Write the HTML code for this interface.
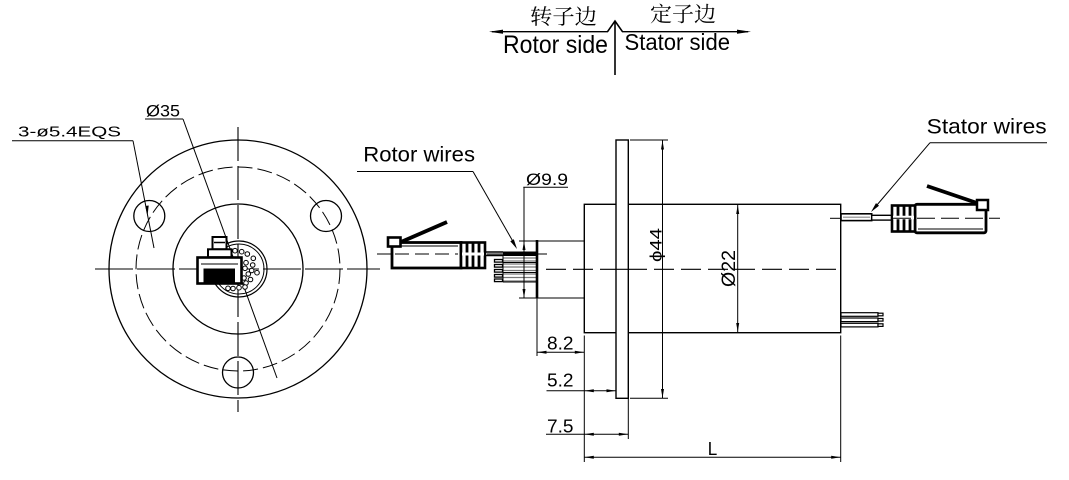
<!DOCTYPE html>
<html><head><meta charset="utf-8"><style>
html,body{margin:0;padding:0;background:#fff;}
svg{display:block;}
text{font-family:"Liberation Sans",Arial,sans-serif;fill:#000;stroke:none;}
.cjk{font-family:"Liberation Serif","Noto Serif CJK SC",serif;}
</style></head><body>
<svg width="1069" height="480" viewBox="0 0 1069 480" xmlns="http://www.w3.org/2000/svg">
<rect width="1069" height="480" fill="#fff"/>

<!-- Header -->
<g stroke="#000" fill="none" stroke-width="1.3">
  <line x1="492" y1="31.7" x2="608" y2="31.7"/>
  <line x1="622" y1="31.7" x2="748" y2="31.7"/>
  <line x1="615" y1="21" x2="615" y2="75" stroke-width="1.6"/>
  <polyline points="607.5,31.7 615,21 622.5,31.7" stroke-width="1.6"/>
</g>
<polygon points="489,31.7 503,29.6 503,33.8" fill="#000"/>
<polygon points="751,31.7 737,29.6 737,33.8" fill="#000"/>
<text class="cjk" x="530" y="24" font-size="21" textLength="67" lengthAdjust="spacingAndGlyphs">转子边</text>
<text class="cjk" x="650" y="21.5" font-size="21" textLength="66" lengthAdjust="spacingAndGlyphs">定子边</text>
<text x="503" y="53" font-size="25" textLength="105" lengthAdjust="spacingAndGlyphs">Rotor side</text>
<text x="624.5" y="50" font-size="23" textLength="105.5" lengthAdjust="spacingAndGlyphs">Stator side</text>

<!-- Left front view -->
<g stroke="#000" fill="none" stroke-width="1.3">
  <circle cx="238" cy="269" r="129"/>
  <circle cx="238" cy="269" r="102" stroke-dasharray="15 5" stroke-width="1"/>
  <circle cx="238" cy="269" r="65"/>
  <circle cx="149.3" cy="216" r="15.5"/>
  <circle cx="326" cy="216" r="15.5"/>
  <circle cx="238" cy="372.5" r="15.5"/>
  <line x1="238" y1="127" x2="238" y2="412" stroke-dasharray="34 5" stroke-width="1.1"/>
  <line x1="95" y1="269" x2="380" y2="269" stroke-dasharray="38 4" stroke-width="1.1"/>
  <!-- leaders -->
  <line x1="12" y1="140.7" x2="133" y2="140.7" stroke-width="1"/>
  <line x1="133" y1="140.7" x2="154" y2="248" stroke-width="1"/>
  <line x1="145" y1="119" x2="183" y2="119" stroke-width="1"/>
  <line x1="183" y1="119" x2="277" y2="378" stroke-width="1"/>
  <!-- connector round -->
  <circle cx="239" cy="269" r="28" stroke-width="1.2"/>
  <circle cx="239" cy="269" r="25" stroke-width="1"/>
</g>
<polygon points="147.5,216 145.3,206 148.7,205.5" fill="#000"/>
<g stroke="#000" fill="#fff" stroke-width="1">
  <circle cx="235" cy="250.7" r="2.3"/><circle cx="241.7" cy="251.7" r="2.3"/>
  <circle cx="247.3" cy="254" r="2.3"/><circle cx="253.3" cy="258.3" r="2.3"/>
  <circle cx="246" cy="262.7" r="2.3"/><circle cx="252.7" cy="265" r="2.3"/>
  <circle cx="245" cy="268.3" r="2.3"/><circle cx="251.7" cy="270.5" r="2.3"/>
  <circle cx="257" cy="272.7" r="2.3"/><circle cx="248.3" cy="274" r="2.3"/>
  <circle cx="244" cy="278" r="2.3"/><circle cx="250.5" cy="279.5" r="2.3"/>
  <circle cx="246" cy="283" r="2.3"/><circle cx="239" cy="287.7" r="2.3"/>
  <circle cx="245" cy="287" r="2.3"/><circle cx="228" cy="288.3" r="2.3"/>
  <circle cx="233" cy="288.5" r="2.3"/>
</g>
<!-- connector front -->
<g stroke="#000" fill="#fff">
  <rect x="212.5" y="237" width="14" height="12.3" stroke-width="2"/>
  <line x1="214" y1="242.5" x2="225" y2="242.5" stroke-width="1.5"/>
  <rect x="208" y="249.3" width="23.5" height="8" stroke-width="2"/>
  <rect x="197.5" y="257.5" width="44" height="26" stroke-width="2.6"/>
  <line x1="201" y1="264" x2="238" y2="264" stroke-width="1"/>
</g>
<rect x="203.5" y="268.5" width="31.5" height="15" fill="#000"/>
<text x="18" y="136.7" font-size="15" textLength="103" lengthAdjust="spacingAndGlyphs">3-ø5.4EQS</text>
<text x="146" y="116.7" font-size="17" textLength="34" lengthAdjust="spacingAndGlyphs">Ø35</text>

<!-- Rotor wires label -->
<text x="363.3" y="161.7" font-size="21" textLength="111.7" lengthAdjust="spacingAndGlyphs">Rotor wires</text>
<g stroke="#000" fill="none" stroke-width="1">
  <line x1="357" y1="171.5" x2="473" y2="171.5"/>
  <line x1="473" y1="171.5" x2="515" y2="245"/>
</g>
<polygon points="517,249 513.8,239.3 510.3,241.3" fill="#000"/>

<!-- Rotor connector side view -->
<g stroke="#000" fill="none">
  <line x1="377" y1="254" x2="547" y2="254" stroke-width="1" stroke-dasharray="16 6"/>
  <line x1="401" y1="242" x2="447" y2="222" stroke-width="3.8"/>
  <rect x="392" y="242.5" width="69" height="25.5" stroke-width="2.8" fill="#fff"/>
  <line x1="395" y1="246" x2="458" y2="246" stroke-width="1"/>
  <line x1="395" y1="254" x2="458" y2="254" stroke-width="1" stroke-dasharray="14 6"/>
  <rect x="388" y="237.5" width="12.5" height="9" stroke-width="2.6" fill="#fff"/>
  <rect x="461" y="242.5" width="24" height="25.5" stroke-width="2.6" fill="#fff"/>
  <line x1="467" y1="243" x2="467" y2="268" stroke-width="2.8"/>
  <line x1="473" y1="243" x2="473" y2="268" stroke-width="2.8"/>
  <line x1="479" y1="243" x2="479" y2="268" stroke-width="2.8"/>
  <line x1="462" y1="254" x2="484" y2="254" stroke="#fff" stroke-width="3"/>
  <line x1="485" y1="252" x2="503" y2="252" stroke-width="1.6"/>
  <line x1="485" y1="255.5" x2="503" y2="255.5" stroke-width="1.6"/>
</g>
<rect x="503" y="251.5" width="33" height="4.5" fill="#000"/>
<g stroke="#777" stroke-width="1.2">
  <line x1="503" y1="258" x2="536" y2="258"/>
  <line x1="503" y1="261" x2="536" y2="261"/>
  <line x1="503" y1="264" x2="536" y2="264"/>
  <line x1="503" y1="267" x2="536" y2="267"/>
  <line x1="503" y1="270.5" x2="536" y2="270.5"/>
  <line x1="503" y1="274" x2="536" y2="274"/>
  <line x1="503" y1="277.5" x2="536" y2="277.5"/>
  <line x1="503" y1="281" x2="536" y2="281"/>
</g>
<g stroke="#000" stroke-width="1">
  <line x1="503" y1="262.5" x2="536" y2="262.5"/>
  <line x1="503" y1="272.5" x2="536" y2="272.5"/>
  <line x1="503" y1="282" x2="536" y2="282"/>
  <line x1="503" y1="256" x2="503" y2="282"/>
</g>
<g stroke="#000" fill="#fff" stroke-width="1.3">
  <rect x="494.5" y="259.5" width="8" height="2.6"/>
  <rect x="494.5" y="264.5" width="8" height="2.6"/>
  <rect x="494.5" y="269.5" width="8" height="2.6"/>
  <rect x="494.5" y="274.5" width="8" height="2.6"/>
  <rect x="494.5" y="279" width="8" height="2.6"/>
</g>

<!-- Ø9.9 -->
<text x="526" y="185" font-size="17" textLength="42" lengthAdjust="spacingAndGlyphs">Ø9.9</text>
<g stroke="#000" fill="none" stroke-width="1">
  <line x1="523.3" y1="187.3" x2="568" y2="187.3"/>
  <line x1="524" y1="187.3" x2="524" y2="298"/>
  <line x1="519" y1="241" x2="584" y2="241"/>
  <line x1="519" y1="298" x2="584" y2="298"/>
</g>
<polygon points="524,241 522.5,250 525.5,250" fill="#000"/>
<polygon points="524,298 522.5,289 525.5,289" fill="#000"/>

<!-- Main side view body -->
<g stroke="#000" fill="none" stroke-width="1.4">
  <line x1="537" y1="240" x2="537" y2="298" stroke-width="2.6"/>
  <rect x="584.3" y="204.3" width="256.4" height="128.4"/>
  <line x1="546" y1="269.3" x2="840" y2="269.3" stroke-width="1.1" stroke-dasharray="20 7"/>
  <rect x="616" y="140" width="12.3" height="258.3" fill="#fff"/>
  <line x1="616" y1="269.3" x2="628.3" y2="269.3" stroke-width="1.1"/>
</g>
<!-- dims Ø44 / Ø22 -->
<g stroke="#000" fill="none" stroke-width="1">
  <line x1="630" y1="140" x2="668" y2="140"/>
  <line x1="630" y1="398.3" x2="668" y2="398.3"/>
  <line x1="662.5" y1="140" x2="662.5" y2="398.3"/>
  <line x1="737.7" y1="204.3" x2="737.7" y2="332.7"/>
</g>
<polygon points="662.5,140.5 661,149.5 664,149.5" fill="#000"/>
<polygon points="662.5,398 661,389 664,389" fill="#000"/>
<polygon points="737.7,205 736.2,214 739.2,214" fill="#000"/>
<polygon points="737.7,332 736.2,323 739.2,323" fill="#000"/>
<text transform="translate(661.3,245) rotate(-90)" font-size="17" text-anchor="middle" textLength="34" lengthAdjust="spacingAndGlyphs">ϕ44</text>
<text transform="translate(735,268.5) rotate(-90)" font-size="19" text-anchor="middle" textLength="37" lengthAdjust="spacingAndGlyphs">Ø22</text>

<!-- Stator connector -->
<text x="926.7" y="133.3" font-size="21" textLength="120" lengthAdjust="spacingAndGlyphs">Stator wires</text>
<g stroke="#000" fill="none" stroke-width="1">
  <line x1="930" y1="142.7" x2="1047" y2="142.7"/>
  <line x1="930" y1="142.7" x2="874" y2="208.5"/>
</g>
<polygon points="871,212 876,203.1 879,205.7" fill="#000"/>
<g stroke="#000" fill="none">
  <line x1="830" y1="218.3" x2="845" y2="218.3" stroke-width="1"/>
  <rect x="841" y="213.8" width="30.7" height="6.8" stroke-width="1.6" fill="#fff"/>
  <line x1="843" y1="217.2" x2="870" y2="217.2" stroke="#888" stroke-width="1.2"/>
  <rect x="871.7" y="215.3" width="20" height="4.8" stroke-width="1.4" fill="#fff"/>
  <line x1="927" y1="186" x2="977" y2="203" stroke-width="3.8"/>
  <rect x="915" y="204.3" width="71" height="28.5" rx="2" stroke-width="2.8" fill="#fff"/>
  <line x1="918" y1="229" x2="983" y2="229" stroke-width="1"/>
  <rect x="977" y="200" width="11" height="10" stroke-width="2.5" fill="#fff"/>
  <rect x="892" y="205.5" width="23" height="26" stroke-width="2.6" fill="#fff"/>
  <line x1="898" y1="206" x2="898" y2="231" stroke-width="2.8"/>
  <line x1="904" y1="206" x2="904" y2="231" stroke-width="2.8"/>
  <line x1="910" y1="206" x2="910" y2="231" stroke-width="2.8"/>
  <line x1="893" y1="217.5" x2="914" y2="217.5" stroke="#fff" stroke-width="3.6"/>
  <line x1="893" y1="218.3" x2="1000" y2="218.3" stroke-width="1" stroke-dasharray="18 6"/>
</g>
<!-- lower stator wires -->
<g stroke="#000" fill="#fff" stroke-width="1.2">
  <rect x="841" y="312.7" width="37" height="3.6"/>
  <rect x="841" y="318" width="37" height="3.6"/>
  <rect x="841" y="323.3" width="37" height="3.6"/>
  <rect x="878" y="313.2" width="5" height="2.6"/>
  <rect x="878" y="318.5" width="5" height="2.6"/>
  <rect x="878" y="323.8" width="5" height="2.6"/>
</g>

<!-- bottom dims -->
<g stroke="#000" fill="none" stroke-width="1">
  <line x1="537" y1="298" x2="537" y2="356"/>
  <line x1="584.3" y1="335.5" x2="584.3" y2="462"/>
  <line x1="840.7" y1="335.5" x2="840.7" y2="462"/>
  <line x1="628.3" y1="398" x2="628.3" y2="439"/>
  <line x1="537" y1="352.3" x2="584.3" y2="352.3"/>
  <line x1="546.5" y1="390.7" x2="616" y2="390.7"/>
  <line x1="546" y1="434.3" x2="628.3" y2="434.3"/>
  <line x1="584.3" y1="457.3" x2="840.7" y2="457.3"/>
</g>
<g fill="#000">
  <polygon points="537.3,352.3 546.5,350.8 546.5,353.8"/>
  <polygon points="584,352.3 574.8,350.8 574.8,353.8"/>
  <polygon points="584.6,390.7 593.8,389.2 593.8,392.2"/>
  <polygon points="615.7,390.7 606.5,389.2 606.5,392.2"/>
  <polygon points="584.6,434.3 593.8,432.8 593.8,435.8"/>
  <polygon points="628,434.3 618.8,432.8 618.8,435.8"/>
  <polygon points="584.6,457.3 593.8,455.8 593.8,458.8"/>
  <polygon points="840.4,457.3 831.2,455.8 831.2,458.8"/>
</g>
<text x="547" y="349.3" font-size="18.5" textLength="26.5" lengthAdjust="spacingAndGlyphs">8.2</text>
<text x="547" y="386.7" font-size="18.5" textLength="26.5" lengthAdjust="spacingAndGlyphs">5.2</text>
<text x="547" y="432.7" font-size="18.5" textLength="26.5" lengthAdjust="spacingAndGlyphs">7.5</text>
<text x="707.7" y="455" font-size="18.5" textLength="9.5" lengthAdjust="spacingAndGlyphs">L</text>
</svg>
</body></html>
